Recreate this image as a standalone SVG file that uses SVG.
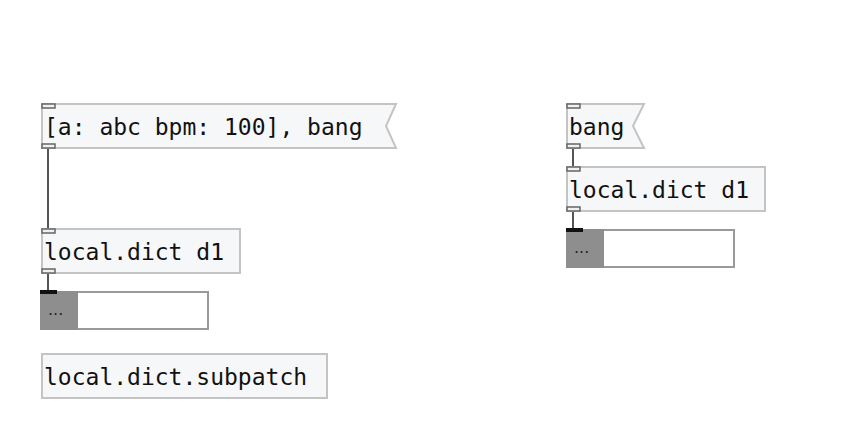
<svg xmlns="http://www.w3.org/2000/svg" width="857" height="432" viewBox="0 0 857 432">
<style>
.box{fill:#f6f7f9;stroke:#c4c4c4;stroke-width:2}
.io{fill:#f0f0f0;stroke:#666;stroke-width:1.5}
.t{font-family:"DejaVu Sans Mono",monospace;font-size:23px;fill:#111}
.wire{stroke:#555;stroke-width:2;fill:none}
.disp{fill:#fff;stroke:#9a9a9a;stroke-width:2}
.gray{fill:#8e8e8e}
.dots{font-family:"DejaVu Sans",sans-serif;font-size:16px;fill:#222}
</style>
<rect width="857" height="432" fill="#fff"/>
<g id="connectors">
<line class="wire" x1="48" y1="148" x2="48" y2="229"/>
<line class="wire" x1="48" y1="273" x2="48" y2="292"/>
<line class="wire" x1="573" y1="148" x2="573" y2="167"/>
<line class="wire" x1="573" y1="211" x2="573" y2="230"/>
</g>
<g id="msg1">
<path class="box" d="M42 104 H396 L386 126 L396 148 H42 Z"/>
<text class="t" x="44" y="135">[a: abc bpm: 100], bang</text>
<rect class="io" x="42" y="104" width="13" height="4"/>
<rect class="io" x="42" y="144" width="13" height="4"/>
</g>
<g id="dict1">
<rect class="box" x="42" y="229" width="198" height="44"/>
<text class="t" x="44" y="260">local.dict d1</text>
<rect class="io" x="42" y="229" width="13" height="4"/>
<rect class="io" x="42" y="269" width="13" height="4"/>
</g>
<g id="disp1">
<rect class="disp" x="41" y="292" width="167" height="37"/>
<rect class="gray" x="40" y="291" width="38" height="39"/>
<rect x="40" y="290" width="17" height="4" fill="#111"/>
<text class="dots" x="48" y="315">...</text>
</g>
<g id="subpatch">
<rect class="box" x="42" y="354" width="285" height="44"/>
<text class="t" x="44" y="385">local.dict.subpatch</text>
</g>
<g id="msg2">
<path class="box" d="M567 104 H644 L633 126 L644 148 H567 Z"/>
<text class="t" x="569" y="135">bang</text>
<rect class="io" x="567" y="104" width="13" height="4"/>
<rect class="io" x="567" y="144" width="13" height="4"/>
</g>
<g id="dict2">
<rect class="box" x="567" y="167" width="198" height="44"/>
<text class="t" x="569" y="198">local.dict d1</text>
<rect class="io" x="567" y="167" width="13" height="4"/>
<rect class="io" x="567" y="207" width="13" height="4"/>
</g>
<g id="disp2">
<rect class="disp" x="567" y="230" width="167" height="37"/>
<rect class="gray" x="566" y="229" width="38" height="39"/>
<rect x="566" y="228" width="17" height="4" fill="#111"/>
<text class="dots" x="574" y="253">...</text>
</g>
</svg>
